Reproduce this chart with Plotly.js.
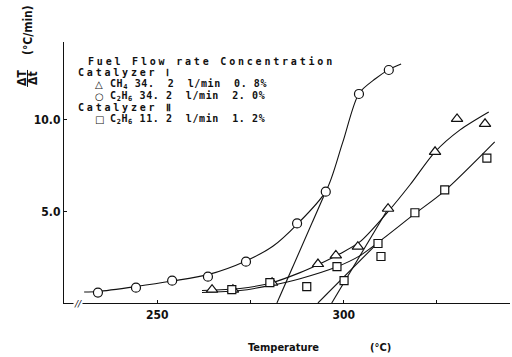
<!DOCTYPE html>
<html><head><meta charset="utf-8">
<script src="https://cdn.plot.ly/plotly-3.0.1.min.js"></script>
<style>html,body{margin:0;padding:0;background:#fff}#chart{width:512px;height:357px}</style>
</head><body><div id="chart"></div>
<script>
// ---- data ----
const circleT    = [234.1, 244.3, 254.0, 263.6, 273.8, 287.5, 295.2, 304.1, 312.1];
const circleRate = [0.57, 0.84, 1.22, 1.44, 2.26, 4.35, 6.08, 11.42, 12.73];
const triT    = [264.7, 270.3, 280.8, 293.1, 297.9, 303.8, 311.9, 324.5, 330.4, 337.9];
const triRate = [0.73, 0.73, 1.11, 2.13, 2.60, 3.08, 5.15, 8.26, 10.06, 9.79];
const sqT    = [270.0, 280.2, 290.1, 298.2, 300.1, 309.2, 310.0, 319.1, 327.1, 338.4];
const sqRate = [0.73, 1.11, 0.89, 1.99, 1.22, 3.25, 2.54, 4.93, 6.18, 7.92];

// hand-drawn fitted curves
const circleFitT    = [230.4, 234.1, 244.3, 254.0, 263.6, 273.8, 281.0, 287.5, 295.2, 299.7, 304.1, 308.5, 312.1, 315.4];
const circleFitRate = [0.60, 0.63, 0.90, 1.20, 1.55, 2.30, 3.10, 4.30, 6.10, 8.75, 11.45, 12.25, 12.75, 13.06];
const triFitT    = [262.0, 272.2, 280.8, 288.3, 293.1, 299.0, 304.4, 311.9, 317.8, 324.5, 331.2, 338.9];
const triFitRate = [0.68, 0.79, 1.11, 1.66, 2.09, 2.69, 3.35, 4.99, 6.46, 8.26, 9.46, 10.44];
const sqFitT    = [262.0, 272.2, 280.2, 288.3, 298.2, 304.4, 309.2, 319.1, 327.1, 340.5];
const sqFitRate = [0.57, 0.68, 0.95, 1.33, 1.98, 2.59, 3.30, 4.88, 6.13, 8.80];
// tangent (ignition) lines
const circleTanT = [282.1, 295.0], circleTanRate = [0, 6.0];
const triTanT    = [296.8, 311.9], triTanRate    = [0, 5.15];
const sqTanT     = [293.1, 309.2], sqTanRate     = [0, 3.30];

// axis ticks
const xTickVals = [250, 300];
const xTickText = ['250', '300'];
const yTickVals = [5, 10];
const yTickText = ['5.0', '10.0'];

// legend text lines
const legendSymbols = ['', '', '△', '○', '', '□'];
const legendLines = [
  'Fuel Flow rate Concentration',
  'Catalyzer Ⅰ',
  'CH<sub>4</sub> 34.  2  l/min  0. 8%',
  'C<sub>2</sub>H<sub>6</sub> 34. 2  l/min  2. 0%',
  'Catalyzer Ⅱ',
  'C<sub>2</sub>H<sub>6</sub> 11. 2  l/min  1. 2%'
];

// ---- layout helpers (plot area in pixels) ----
const L = 64, R = 510, T = 42, B = 303.4;
const px = x => (x - L) / (R - L);
const py = y => (B - y) / (B - T);

const lineStyle = {color: '#111', width: 1.1};
const traces = [
  {x: circleFitT, y: circleFitRate, mode: 'lines', line: Object.assign({shape: 'spline', smoothing: 0.8}, lineStyle)},
  {x: triFitT, y: triFitRate, mode: 'lines', line: Object.assign({shape: 'spline', smoothing: 0.8}, lineStyle)},
  {x: sqFitT, y: sqFitRate, mode: 'lines', line: Object.assign({shape: 'spline', smoothing: 0.8}, lineStyle)},
  {x: circleTanT, y: circleTanRate, mode: 'lines', line: lineStyle},
  {x: triTanT, y: triTanRate, mode: 'lines', line: lineStyle},
  {x: sqTanT, y: sqTanRate, mode: 'lines', line: lineStyle},
  {x: circleT, y: circleRate, mode: 'markers', marker: {symbol: 'circle', size: 9, color: '#fff', line: {color: '#111', width: 1.2}}},
  {x: triT, y: triRate, mode: 'markers', marker: {symbol: 'triangle-up', size: 10, color: '#fff', line: {color: '#111', width: 1.2}}},
  {x: sqT, y: sqRate, mode: 'markers', marker: {symbol: 'square', size: 8, color: '#fff', line: {color: '#111', width: 1.2}}}
];

const legFont = {family: 'DejaVu Sans Mono, Liberation Mono, monospace', size: 10, color: '#111', weight: 'bold'};
const legX = [86, 76, 108, 108, 76, 108];
const legY = [62, 73, 85, 97, 108, 120];
const legSpacing = [2.8, 2.8, 0.6, 0.6, 2.8, 0.6];
const annotations = legendLines.map((t, i) => ({
  xref: 'paper', yref: 'paper', x: px(legX[i]), y: py(legY[i]), xanchor: 'left', yanchor: 'middle',
  text: '<span style="letter-spacing:' + legSpacing[i] + 'px">' + t + '</span>', showarrow: false, font: legFont
}));
legendSymbols.forEach((s, i) => {
  if (s) annotations.push({xref: 'paper', yref: 'paper', x: px(99), y: py(legY[i]), xanchor: 'center', yanchor: 'middle',
    text: s, showarrow: false, font: {family: 'DejaVu Sans', size: 10, color: '#111'}});
});
const axFont = {family: 'Liberation Sans Narrow, DejaVu Sans Condensed, Arial Narrow, sans-serif', size: 12, color: '#111', weight: 'bold'};
annotations.push(
  {xref: 'paper', yref: 'paper', x: px(283), y: py(348), text: 'Temperature', showarrow: false, font: Object.assign({}, axFont, {size: 11}), xanchor: 'center', yanchor: 'middle'},
  {xref: 'paper', yref: 'paper', x: px(380), y: py(348), text: '(°C)', showarrow: false, font: Object.assign({}, axFont, {size: 11}), xanchor: 'center', yanchor: 'middle'},
  {xref: 'paper', yref: 'paper', x: px(22), y: py(78), text: 'ΔT', textangle: -90, showarrow: false, font: axFont, xanchor: 'center', yanchor: 'middle'},
  {xref: 'paper', yref: 'paper', x: px(33), y: py(78), text: 'Δt', textangle: -90, showarrow: false, font: axFont, xanchor: 'center', yanchor: 'middle'},
  {xref: 'paper', yref: 'paper', x: px(28), y: py(30), text: '(°C/min)', textangle: -90, showarrow: false, font: axFont, xanchor: 'center', yanchor: 'middle'},
  {xref: 'paper', yref: 'paper', x: px(78), y: py(304), text: '<i>//</i>', showarrow: false, font: {family: 'DejaVu Sans', size: 9, color: '#111'}, xanchor: 'center', yanchor: 'middle', bgcolor: '#fff', borderpad: 0}
);

const layout = {
  width: 512, height: 357,
  margin: {l: L, r: 512 - R, t: T, b: 357 - B},
  paper_bgcolor: '#fff', plot_bgcolor: '#fff',
  showlegend: false,
  xaxis: {range: [225, 344.6], showgrid: false, zeroline: false, showline: true, linecolor: '#111', linewidth: 1.2,
          tickvals: xTickVals, ticktext: xTickText, ticks: 'inside', ticklen: 3, tickcolor: '#111',
          minor: {tick0: 0, dtick: 25, ticks: 'inside', ticklen: 3, tickcolor: '#111', showgrid: false},
          tickfont: axFont, fixedrange: true},
  yaxis: {range: [0, 14.26], showgrid: false, zeroline: false, showline: true, linecolor: '#111', linewidth: 1.2,
          tickvals: yTickVals, ticktext: yTickText, ticks: 'inside', ticklen: 3, tickcolor: '#111',
          tickfont: axFont, fixedrange: true},
  shapes: [
    {type: 'line', xref: 'paper', yref: 'paper', x0: px(27.5), x1: px(27.5), y0: py(70), y1: py(87), line: {color: '#111', width: 1}}
  ],
  annotations: annotations
};

Plotly.newPlot('chart', traces, layout, {staticPlot: true, displayModeBar: false});
</script>
</body></html>
